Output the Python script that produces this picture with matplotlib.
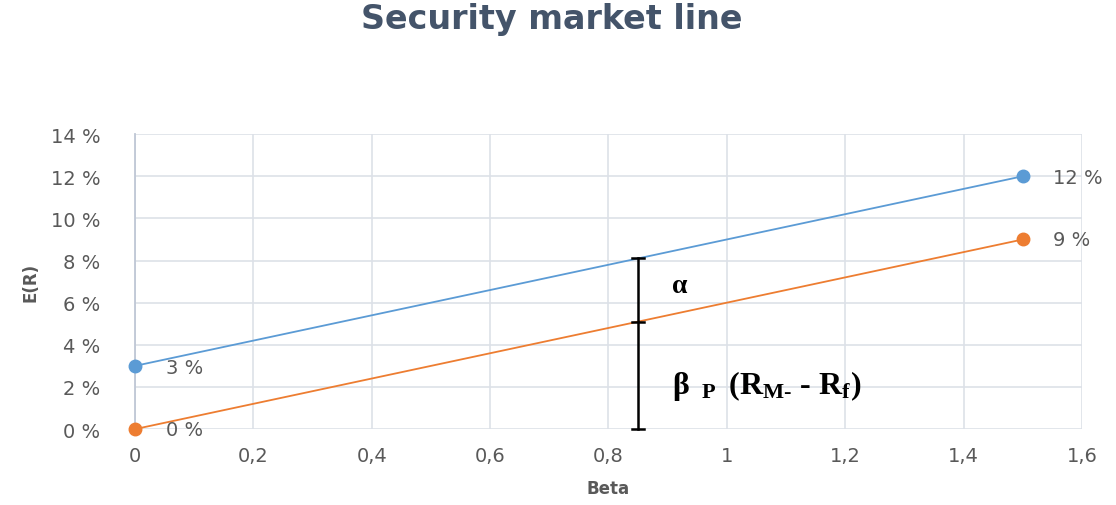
import matplotlib
matplotlib.use("Agg")
import matplotlib.pyplot as plt
from matplotlib.ticker import FuncFormatter

plt.rcParams["mathtext.fontset"] = "custom"
plt.rcParams["mathtext.rm"] = "Liberation Serif:bold"
plt.rcParams["mathtext.bf"] = "Liberation Serif:bold"
plt.rcParams["mathtext.it"] = "Liberation Serif:bold"

beta = [0, 1.5]
sml = [3, 12]          # E(R) %, blue
portfolio = [0, 9]     # %, orange
x_ticks = [0, 0.2, 0.4, 0.6, 0.8, 1.0, 1.2, 1.4, 1.6]
y_ticks = [0, 2, 4, 6, 8, 10, 12, 14]
bar_beta = 0.85

blue = "#5B9BD5"
orange = "#ED7D31"
tick_col = "#595959"

fig = plt.figure(figsize=(11.16, 5.06), dpi=100)
ax = fig.add_axes([0.121, 0.150, 0.8485, 0.583])

ax.plot(beta, sml, color=blue, lw=1.3, marker="o", ms=9, zorder=3, clip_on=False)
ax.plot(beta, portfolio, color=orange, lw=1.3, marker="o", ms=9, zorder=3, clip_on=False)

ax.set_xlim(0, 1.6)
ax.set_ylim(0, 14)
ax.set_xticks(x_ticks)
ax.set_yticks(y_ticks)

def xfmt(v, p):
    s = f"{v:.1f}".rstrip("0").rstrip(".")
    return s.replace(".", ",")

ax.xaxis.set_major_formatter(FuncFormatter(xfmt))
ax.yaxis.set_major_formatter(FuncFormatter(lambda v, p: f"{int(v)} %"))
ax.tick_params(length=0, labelsize=14, colors=tick_col, pad=12)
ax.tick_params(axis="y", pad=25)
ax.grid(True, color="#DDE1E8", lw=1.2)
ax.set_axisbelow(True)
for s in ["top", "right", "bottom"]:
    ax.spines[s].set_visible(False)
ax.spines["left"].set_color("#BFC7D5")
ax.spines["left"].set_linewidth(1.3)

ax.set_xlabel("Beta", fontsize=12, fontweight="bold", color=tick_col, labelpad=10)
ax.set_ylabel("E(R)", fontsize=12, fontweight="bold", color=tick_col, labelpad=8)

# data labels
for xv, yv in zip(beta, sml):
    ax.annotate(f"{yv} %", (xv, yv), xytext=(22, -1), textcoords="offset points",
                fontsize=14, color=tick_col, va="center")
for xv, yv in zip(beta, portfolio):
    ax.annotate(f"{yv} %", (xv, yv), xytext=(22, 0), textcoords="offset points",
                fontsize=14, color=tick_col, va="center")

# annotation bar
top = sml[0] + (sml[1] - sml[0]) / 1.5 * bar_beta
mid = portfolio[0] + (portfolio[1] - portfolio[0]) / 1.5 * bar_beta
ax.plot([bar_beta, bar_beta], [0, top], color="black", lw=1.8, zorder=4, clip_on=False)
for yv in [0, mid, top]:
    ax.plot([bar_beta - 0.01, bar_beta + 0.01], [yv, yv], color="black", lw=1.8,
            zorder=4, clip_on=False)

ax.text(0.908, 6.8, "α", fontsize=20, fontweight="bold", family="Liberation Serif",
        va="center", ha="left")
ax.text(0.908, 2.1, r"β $\,_{\mathrm{P}}\,$ (R$_{\mathrm{M}\text{-}}$ - R$_{\mathrm{f}}$)",
        fontsize=23, fontweight="bold", family="Liberation Serif", va="center", ha="left")

fig.text(0.494, 1 - 29 / 506, "Security market line", ha="center", va="baseline",
         fontsize=24, fontweight="bold", color="#44546A", family="DejaVu Sans")

fig.savefig("out.png", dpi=100)
